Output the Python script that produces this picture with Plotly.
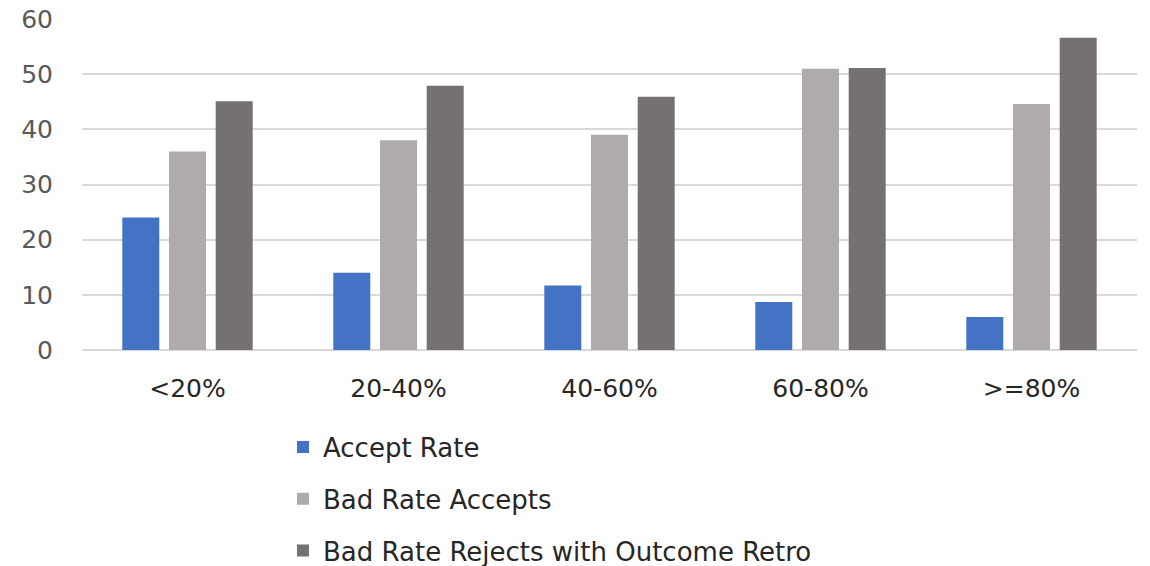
import plotly.graph_objects as go

categories = ["<20%", "20-40%", "40-60%", "60-80%", ">=80%"]
accept_rate = [24.0, 14.0, 11.7, 8.7, 6.0]
bad_rate_accepts = [36.0, 38.0, 39.0, 51.0, 44.6]
bad_rate_rejects = [45.1, 47.9, 45.9, 51.1, 56.6]

series = [
    ("Accept Rate", accept_rate, "#4472C4"),
    ("Bad Rate Accepts", bad_rate_accepts, "#AFABAB"),
    ("Bad Rate Rejects with Outcome Retro", bad_rate_rejects, "#757171"),
]

fig = go.Figure()
for name, vals, color in series:
    fig.add_trace(go.Bar(
        x=categories, y=vals, name=name, legendgroup=name,
        marker=dict(color=color, line=dict(width=0)),
    ))

fig.update_layout(
    width=1150, height=566,
    margin=dict(l=82, r=13, t=19, b=216, autoexpand=False),
    paper_bgcolor="white", plot_bgcolor="white",
    barmode="group", bargap=0.336, bargroupgap=0.208,
    font=dict(family="DejaVu Sans", color="#595959"),
    showlegend=True,
    legend=dict(
        orientation="v", x=0.1905, xanchor="left", y=-0.222, yanchor="top",
        traceorder="grouped", tracegroupgap=15, itemwidth=30,
        font=dict(family="DejaVu Sans", size=26, color="#262626"),
        bgcolor="rgba(0,0,0,0)",
    ),
    xaxis=dict(
        showgrid=False, showline=False, ticks="",
        tickfont=dict(family="DejaVu Sans", size=25, color="#262626"),
        ticklabelstandoff=21,
    ),
    yaxis=dict(
        range=[0, 60], dtick=10, showgrid=True, gridcolor="#D9D9D9", gridwidth=1.5,
        zeroline=True, zerolinecolor="#D9D9D9", zerolinewidth=1.5,
        showline=False, ticks="",
        tickfont=dict(family="DejaVu Sans", size=25, color="#595959"),
        ticklabelstandoff=28,
    ),
)

fig.write_html("out.html")
